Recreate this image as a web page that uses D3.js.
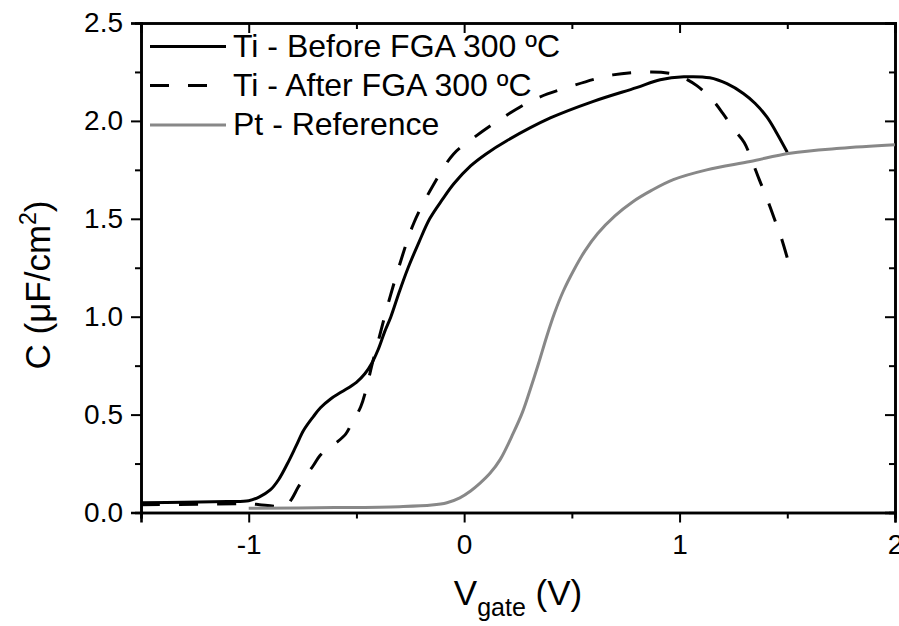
<!DOCTYPE html>
<html>
<head>
<meta charset="utf-8">
<script src="https://cdn.jsdelivr.net/npm/d3@7"></script>
<style>
  body { margin: 0; background: #fff; }
  svg { display: block; font-family: "Liberation Sans", Arial, sans-serif; }
</style>
</head>
<body>
<svg id="drawing_region"></svg>
<script>
// [Vgate (V), C (uF/cm2)]
const tiBefore = [
    [-1.5, 0.050], [-1.3, 0.052], [-1.1, 0.056], [-1.0, 0.060], [-0.95, 0.080],
    [-0.9, 0.115], [-0.86, 0.170], [-0.82, 0.250], [-0.78, 0.340], [-0.745, 0.420],
    [-0.7, 0.490], [-0.667, 0.535], [-0.62, 0.580], [-0.57, 0.615], [-0.5, 0.665],
    [-0.46, 0.710], [-0.43, 0.760], [-0.4, 0.830], [-0.37, 0.920], [-0.34, 1.000],
    [-0.3, 1.130], [-0.26, 1.250], [-0.21, 1.380], [-0.16, 1.500], [-0.1, 1.600],
    [-0.047, 1.680], [0.03, 1.770], [0.1, 1.830], [0.2, 1.900], [0.4, 2.015],
    [0.6, 2.100], [0.8, 2.170], [0.91, 2.210], [1.02, 2.225], [1.14, 2.220],
    [1.22, 2.190], [1.296, 2.140], [1.35, 2.090], [1.405, 2.020], [1.45, 1.940],
    [1.5, 1.840]
];
const tiAfter = [
    [-1.5, 0.040], [-1.2, 0.042], [-1.0, 0.045], [-0.95, 0.040], [-0.88, 0.032],
    [-0.83, 0.030], [-0.8, 0.070], [-0.77, 0.130], [-0.74, 0.180], [-0.7, 0.240],
    [-0.67, 0.290], [-0.63, 0.330], [-0.59, 0.360], [-0.55, 0.400], [-0.52, 0.460],
    [-0.48, 0.540], [-0.45, 0.650], [-0.43, 0.745], [-0.4, 0.870], [-0.357, 1.050],
    [-0.287, 1.310], [-0.233, 1.480], [-0.147, 1.665], [-0.05, 1.830], [0.027, 1.900],
    [0.17, 2.010], [0.326, 2.110], [0.477, 2.170], [0.69, 2.235], [0.87, 2.250],
    [0.97, 2.240], [1.02, 2.220], [1.08, 2.180], [1.15, 2.110], [1.2, 2.040],
    [1.25, 1.960], [1.3, 1.890], [1.335, 1.800], [1.37, 1.700], [1.405, 1.605],
    [1.44, 1.500], [1.47, 1.410], [1.5, 1.300]
];
const ptRef = [
    [-1.0, 0.022], [-0.6, 0.025], [-0.3, 0.030], [-0.15, 0.038], [-0.08, 0.050],
    [-0.02, 0.075], [0.03, 0.110], [0.074, 0.150], [0.12, 0.200], [0.167, 0.270],
    [0.228, 0.405], [0.27, 0.510], [0.306, 0.626], [0.345, 0.760], [0.383, 0.898],
    [0.42, 1.020], [0.46, 1.130], [0.51, 1.240], [0.56, 1.335], [0.62, 1.425],
    [0.7, 1.515], [0.78, 1.585], [0.87, 1.645], [0.971, 1.700], [1.126, 1.750],
    [1.328, 1.793], [1.513, 1.835], [1.745, 1.860], [2.0, 1.878]
];

const xMajor = [-1, 0, 1, 2];
const xMinor = [-1.5, -0.5, 0.5, 1.5];
const yMajor = [0, 0.5, 1.0, 1.5, 2.0, 2.5];
const yMinor = [0.25, 0.75, 1.25, 1.75, 2.25];

const seriesNames = ["Ti - Before FGA 300 ºC", "Ti - After FGA 300 ºC", "Pt - Reference"];

class CVPlot {

    constructor( config, series ) {
        this.config = config;
        this.series = series;
        this.init();
    }

    init() {
        let self = this;

        self.svg = d3.select( self.config.parent )
            .attr('width', self.config.width)
            .attr('height', self.config.height);

        self.xscale = d3.scaleLinear()
            .domain( [-1.5, 2] )
            .range( [self.config.plot.left, self.config.plot.right] );

        self.yscale = d3.scaleLinear()
            .domain( [0, 2.5] )
            .range( [self.config.plot.bottom, self.config.plot.top] );
    }

    // one axis side = major ticks with labels + minor ticks without
    axisPair( axisFn, scale, pos, major, minor, size, labels ) {
        let self = this;
        let fmt = () => '';
        if ( labels === 'x' ) fmt = d => String(d);          // plain hyphen minus like the original
        if ( labels === 'y' ) fmt = d => d.toFixed(1);
        const g = self.svg.append('g').attr('transform', pos);
        g.call( axisFn(scale).tickValues(major).tickSize(size[0]).tickPadding(size[2]).tickFormat(fmt) );
        const gm = self.svg.append('g').attr('transform', pos);
        gm.call( axisFn(scale).tickValues(minor).tickSize(size[1]).tickFormat('') );
        [g, gm].forEach( a => {
            a.select('.domain').attr('stroke', '#000').attr('stroke-width', 2.6);
            a.selectAll('.tick line').attr('stroke', '#000').attr('stroke-width', 2);
            a.selectAll('.tick text').attr('fill', '#000').attr('font-size', '28px')
                .attr('font-family', '"Liberation Sans", Arial, sans-serif');
        });
    }

    render() {
        let self = this;
        const p = self.config.plot;

        // bottom & left: outward ticks with labels
        self.axisPair( d3.axisBottom, self.xscale, `translate(0,${p.bottom})`, xMajor, xMinor, [10, 6, 12], 'x' );
        self.axisPair( d3.axisLeft, self.yscale, `translate(${p.left},0)`, yMajor, yMinor, [10, 6, 8], 'y' );
        // top & right: inward ticks, no labels
        self.axisPair( d3.axisTop, self.xscale, `translate(0,${p.top})`, xMajor, xMinor, [-10, -6, 0], null );
        self.axisPair( d3.axisRight, self.yscale, `translate(${p.right},0)`, yMajor, yMinor, [-10, -6, 0], null );

        const line = d3.line()
            .x( d => self.xscale( d[0] ) )
            .y( d => self.yscale( d[1] ) )
            .curve( d3.curveCatmullRom.alpha(0.5) );

        self.svg.selectAll('path.curve')
            .data( self.series )
            .enter()
            .append('path')
            .attr('class', 'curve')
            .attr('d', d => line( d.values ))
            .attr('fill', 'none')
            .attr('stroke', d => d.color)
            .attr('stroke-width', 3)
            .attr('stroke-dasharray', d => d.dash)
            .attr('stroke-linejoin', 'round');

        // legend
        const lg = self.svg.append('g');
        const rowY = [46.5, 85.5, 125];
        self.series.forEach( (s, i) => {
            lg.append('line')
                .attr('x1', 150).attr('x2', 226)
                .attr('y1', rowY[i]).attr('y2', rowY[i])
                .attr('stroke', s.color)
                .attr('stroke-width', 3)
                .attr('stroke-dasharray', s.dash);
            lg.append('text')
                .attr('x', 233).attr('y', rowY[i] + 10)
                .attr('font-size', '32px')
                .attr('fill', '#000')
                .text( s.name );
        });

        // axis titles
        const xl = self.svg.append('text')
            .attr('x', 518).attr('y', 605)
            .attr('text-anchor', 'middle')
            .attr('font-size', '35px')
            .attr('fill', '#000');
        xl.append('tspan').text('V');
        xl.append('tspan').attr('font-size', '25px').attr('dy', 11).text('gate');
        xl.append('tspan').attr('dy', -11).text(' (V)');

        const yl = self.svg.append('text')
            .attr('transform', 'translate(50, 285) rotate(-90)')
            .attr('text-anchor', 'middle')
            .attr('font-size', '35px')
            .attr('fill', '#000');
        yl.append('tspan').text('C (μF/cm');
        yl.append('tspan').attr('font-size', '23px').attr('dy', -14).text('2');
        yl.append('tspan').attr('dy', 14).text(')');
    }
}

const series = [
    { name: seriesNames[0], values: tiBefore, color: '#000', dash: null },
    { name: seriesNames[1], values: tiAfter, color: '#000', dash: '19,19' },
    { name: seriesNames[2], values: ptRef, color: '#888', dash: null }
];

const plot = new CVPlot({
    parent: '#drawing_region',
    width: 899,
    height: 626,
    plot: { left: 141, right: 895, top: 23, bottom: 512.5 }
}, series );
plot.render();
</script>
</body>
</html>
